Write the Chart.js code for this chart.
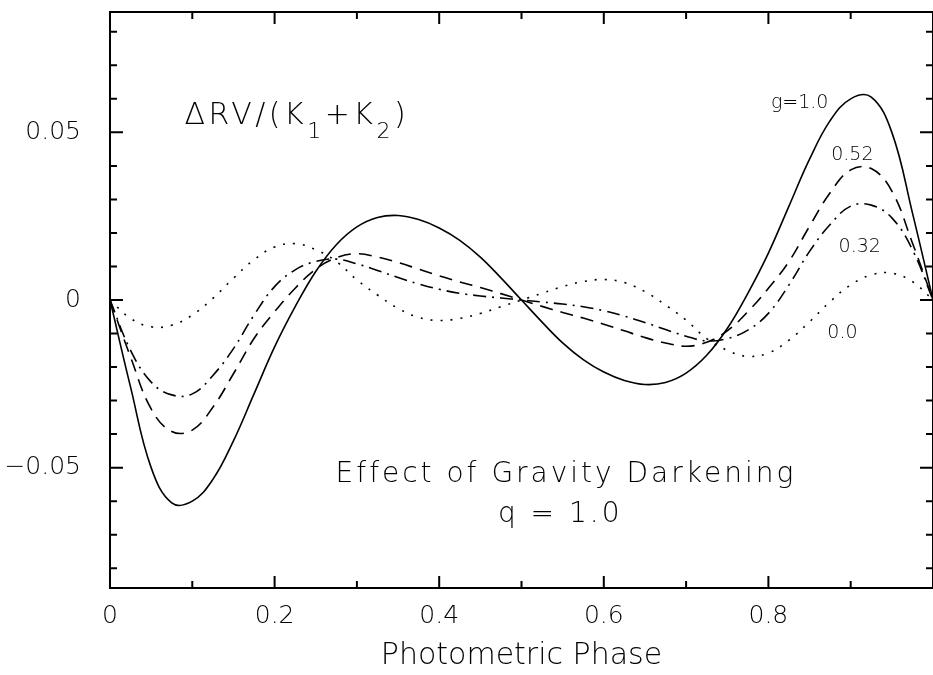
<!DOCTYPE html>
<html>
<head>
<meta charset="utf-8">
<title>Effect of Gravity Darkening</title>
<script src="https://cdn.jsdelivr.net/npm/chart.js@4.4.1/dist/chart.umd.min.js"></script>
<style>
  html, body { margin: 0; padding: 0; background: #fff; }
  #wrap { width: 933px; height: 675px; }
</style>
</head>
<body>
<div id="wrap"><canvas id="rvChart" width="933" height="675"></canvas></div>
<script>
// photometric phase, 0 .. 1
var phase = [0, 0.025, 0.05, 0.075, 0.1, 0.125, 0.15, 0.175, 0.2, 0.225,
    0.25, 0.275, 0.3, 0.325, 0.35, 0.375, 0.4, 0.425, 0.45, 0.475,
    0.5, 0.525, 0.55, 0.575, 0.6, 0.625, 0.65, 0.675, 0.7, 0.725,
    0.75, 0.775, 0.8, 0.825, 0.85, 0.875, 0.9, 0.925, 0.95, 0.975, 1.0];

// dRV/(K1+K2) for each gravity darkening exponent
var g100 = [0, -0.0260, -0.0500, -0.0605, -0.0600, -0.0535, -0.0420, -0.0280, -0.0140, -0.0020,
    0.0085, 0.0165, 0.0218, 0.0246, 0.0252, 0.0240, 0.0215, 0.0178, 0.0128, 0.0066,
    0, -0.0066, -0.0128, -0.0178, -0.0215, -0.0240, -0.0252, -0.0246, -0.0218, -0.0165,
    -0.0085, 0.0020, 0.0140, 0.0280, 0.0420, 0.0535, 0.0600, 0.0605, 0.0500, 0.0260, 0];
var g052 = [0, -0.0170, -0.0325, -0.0392, -0.0388, -0.0320, -0.0220, -0.0115, -0.0035, 0.0035,
    0.0092, 0.0126, 0.0138, 0.0128, 0.0112, 0.0092, 0.0072, 0.0054, 0.0037, 0.0019,
    0, -0.0019, -0.0037, -0.0054, -0.0072, -0.0092, -0.0112, -0.0128, -0.0138, -0.0126,
    -0.0092, -0.0035, 0.0035, 0.0115, 0.0220, 0.0320, 0.0388, 0.0392, 0.0325, 0.0170, 0];
var g032 = [0, -0.0150, -0.0245, -0.0283, -0.0280, -0.0225, -0.0145, -0.0045, 0.0040, 0.0090,
    0.0115, 0.0122, 0.0108, 0.0088, 0.0067, 0.0048, 0.0032, 0.0020, 0.0012, 0.0006,
    0, -0.0006, -0.0012, -0.0020, -0.0032, -0.0048, -0.0067, -0.0088, -0.0108, -0.0122,
    -0.0115, -0.0090, -0.0040, 0.0045, 0.0145, 0.0225, 0.0280, 0.0283, 0.0245, 0.0150, 0];
var g000 = [0, -0.0055, -0.0080, -0.0075, -0.0045, 0.0005, 0.0065, 0.0120, 0.0158, 0.0168,
    0.0150, 0.0115, 0.0060, 0.0015, -0.0025, -0.0052, -0.0061, -0.0055, -0.0040, -0.0020,
    0, 0.0020, 0.0040, 0.0055, 0.0061, 0.0052, 0.0025, -0.0015, -0.0060, -0.0115,
    -0.0150, -0.0168, -0.0158, -0.0120, -0.0065, -0.0005, 0.0045, 0.0075, 0.0080, 0.0055, 0];

var curveNames = ['g=1.0', '0.52', '0.32', '0.0'];

var xTickValues = [0, 0.2, 0.4, 0.6, 0.8];
var xTickLabels = ['0', '0.2', '0.4', '0.6', '0.8'];
var yTickValues = [-0.05, 0, 0.05];
var yTickLabels = ['\u22120.05', '0', '0.05'];

const FONT = "'DejaVu Sans', 'Liberation Sans', sans-serif";
const WEIGHT = 200;

// text placed in data coordinates
var notes = [
    {text: curveNames[0], x: 0.838, y: 0.0574, size: 19, spacing: 0},
    {text: curveNames[1], x: 0.902, y: 0.0419, size: 19, spacing: 0},
    {text: curveNames[2], x: 0.911, y: 0.0142, size: 19, spacing: 0},
    {text: curveNames[3], x: 0.890, y: -0.0112, size: 19, spacing: 0},
    {text: 'Effect of Gravity Darkening', x: 0.554, y: -0.0544, size: 28, spacing: 3},
    {text: 'q = 1.0', x: 0.547, y: -0.0663, size: 28, spacing: 3}
];
var yLabelParts = [
    {t: '\u0394RV/(K', sub: false},
    {t: '1', sub: true},
    {t: '+K', sub: false},
    {t: '2', sub: true},
    {t: ')', sub: false}
];

function points(values) {
    return phase.map(function (p, i) { return {x: p, y: values[i]}; });
}

var framePlugin = {
    id: 'frame',
    beforeDraw: function (chart) {
        chart.ctx.letterSpacing = '0px';
    },
    afterDraw: function (chart) {
        var ctx = chart.ctx;
        var a = chart.chartArea;
        var xs = chart.scales.x;
        var ys = chart.scales.y;

        ctx.save();
        ctx.strokeStyle = '#000';
        ctx.lineWidth = 2;
        ctx.beginPath();
        ctx.moveTo(a.right, a.top);
        ctx.lineTo(a.left, a.top);
        ctx.lineTo(a.left, a.bottom);
        ctx.lineTo(a.right, a.bottom);
        ctx.lineTo(a.right, a.top);

        // inward ticks on all four sides
        for (var i = 0; i <= 10; i++) {
            var px = xs.getPixelForValue(i / 10);
            var len = (i % 2 === 0) ? 12 : 7;
            ctx.moveTo(px, a.bottom); ctx.lineTo(px, a.bottom - len);
            ctx.moveTo(px, a.top); ctx.lineTo(px, a.top + len);
        }
        for (var j = -8; j <= 8; j++) {
            var py = ys.getPixelForValue(j / 100);
            var l2 = (j % 5 === 0) ? 13 : 7;
            ctx.moveTo(a.left, py); ctx.lineTo(a.left + l2, py);
            ctx.moveTo(a.right, py); ctx.lineTo(a.right - l2, py);
        }
        ctx.stroke();

        ctx.fillStyle = '#000';
        ctx.textBaseline = 'alphabetic';
        notes.forEach(function (n) {
            ctx.font = WEIGHT + ' ' + n.size + 'px ' + FONT;
            ctx.letterSpacing = n.spacing + 'px';
            ctx.textAlign = 'center';
            ctx.fillText(n.text, xs.getPixelForValue(n.x), ys.getPixelForValue(n.y));
        });

        // dRV/(K1+K2) with subscripts
        var tx = xs.getPixelForValue(0.0905);
        var ty = ys.getPixelForValue(0.0526);
        ctx.textAlign = 'left';
        ctx.letterSpacing = '3.5px';
        yLabelParts.forEach(function (p) {
            ctx.font = WEIGHT + ' ' + (p.sub ? 22 : 30) + 'px ' + FONT;
            ctx.fillText(p.t, tx, ty + (p.sub ? 14 : 0));
            tx += ctx.measureText(p.t).width;
        });
        ctx.restore();
    }
};

var chartdata = {
    datasets: [
        {label: curveNames[0], data: points(g100), borderDash: []},
        {label: curveNames[1], data: points(g052), borderDash: [13, 8]},
        {label: curveNames[2], data: points(g032), borderDash: [13, 6, 2, 6]},
        {label: curveNames[3], data: points(g000), borderDash: [2, 8]}
    ]
};

var rvChart = new Chart(document.getElementById('rvChart'), {
    type: 'line',
    data: chartdata,
    plugins: [framePlugin],
    options: {
        responsive: false,
        devicePixelRatio: 1,
        animation: false,
        layout: {padding: {top: 12, right: -6, left: 0, bottom: 0}},
        plugins: {
            legend: {display: false},
            tooltip: {enabled: false}
        },
        elements: {
            point: {radius: 0},
            line: {tension: 0.4, borderWidth: 1.6, borderColor: '#000', fill: false}
        },
        scales: {
            x: {
                type: 'linear',
                min: 0,
                max: 1,
                grid: {display: false},
                border: {display: false},
                afterBuildTicks: function (s) {
                    s.ticks = xTickValues.map(function (v) { return {value: v}; });
                },
                afterFit: function (s) { s.height = 87; },
                ticks: {
                    autoSkip: false,
                    maxRotation: 0,
                    padding: 5,
                    color: '#000',
                    font: {family: FONT, size: 25, weight: WEIGHT},
                    callback: function (v) { return xTickLabels[xTickValues.indexOf(v)]; }
                },
                title: {
                    display: true,
                    text: 'Photometric Phase',
                    color: '#000',
                    font: {family: FONT, size: 30, weight: WEIGHT},
                    padding: {top: 0, bottom: 1}
                }
            },
            y: {
                type: 'linear',
                min: -0.0859,
                max: 0.0859,
                grid: {display: false},
                border: {display: false},
                afterBuildTicks: function (s) {
                    s.ticks = yTickValues.map(function (v) { return {value: v}; });
                },
                afterFit: function (s) {
                    s.width = 110;
                    s.paddingTop = 0;
                    s.paddingBottom = 0;
                },
                ticks: {
                    padding: 21,
                    color: '#000',
                    font: {family: FONT, size: 25, weight: WEIGHT},
                    callback: function (v) { return yTickLabels[yTickValues.indexOf(v)]; }
                }
            }
        }
    }
});
</script>
</body>
</html>
